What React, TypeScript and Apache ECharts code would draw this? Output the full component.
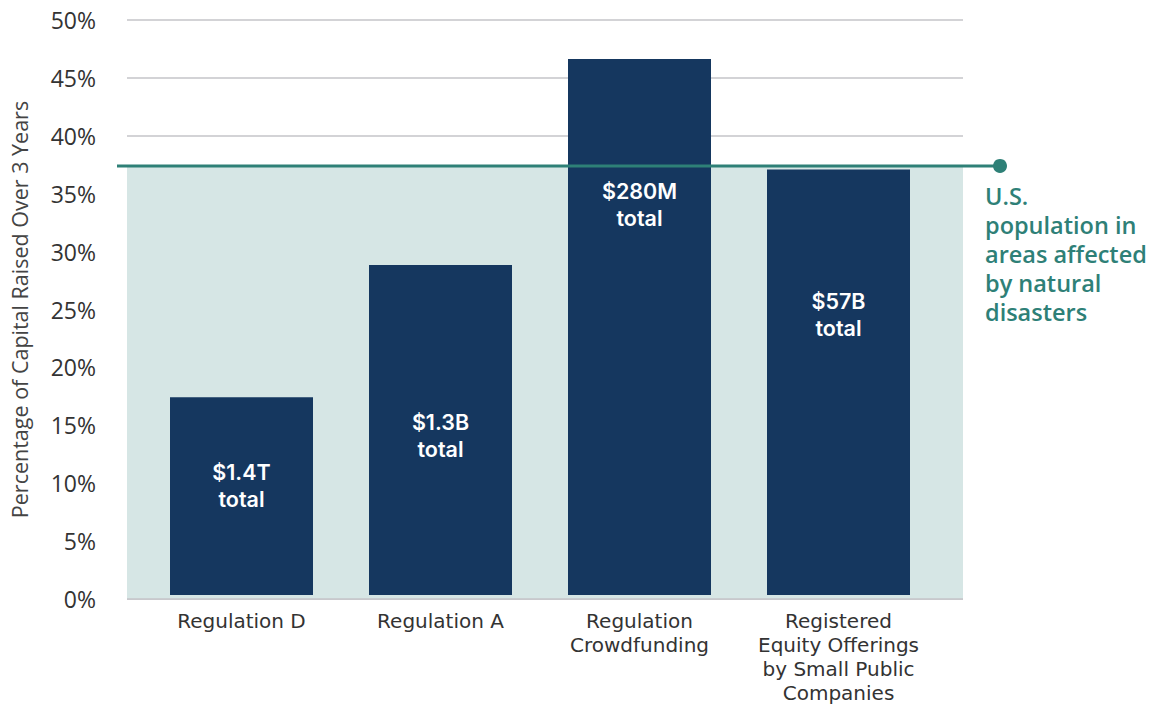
import React, { useEffect, useRef } from "react";
import * as echarts from "echarts";

const categories = [
  "Regulation D",
  "Regulation A",
  "Regulation\nCrowdfunding",
  "Registered\nEquity Offerings\nby Small Public\nCompanies",
];
const shareValues = [17.2, 28.7, 46.6, 37.0];
const totalLabels = ["$1.4T\ntotal", "$1.3B\ntotal", "$280M\ntotal", "$57B\ntotal"];
const labelDistances = [61, 144, 118, 118];
const populationShare = 37.4;
const populationLabel = "U.S.\npopulation in\nareas affected\nby natural\ndisasters";
const yTicks = { min: 0, max: 50, interval: 5 };

const FONT = "'Open Sans', 'Noto Sans', sans-serif";
const CAT_FONT = "'DejaVu Sans', sans-serif";
const BAR_FONT = "Inter, 'Open Sans', sans-serif";
const NAVY = "#15375f";
const TEAL = "#2e8077";
const SHADE = "#d6e6e5";
const GRID_GRAY = "#c4c4c8";

export default function App() {
  const ref = useRef<HTMLDivElement>(null);
  useEffect(() => {
    document.body.style.margin = "0";
    const chart = echarts.init(ref.current!, null, { renderer: "svg" });
    chart.setOption({
      animation: false,
      textStyle: { fontFamily: FONT },
      grid: [
        { left: 117, right: 191, top: 20, bottom: 106 },
        { left: 142, right: 216, top: 20, bottom: 106 },
        { left: 117, right: 154, top: 20, bottom: 106 },
      ],
      xAxis: [
        {
          gridIndex: 0,
          type: "value",
          min: 0,
          max: 1,
          show: true,
          axisLine: { show: false },
          axisTick: { show: false },
          axisLabel: { show: false },
          splitLine: { show: false },
        },
        {
          gridIndex: 1,
          type: "category",
          data: categories,
          axisLine: { show: false },
          axisTick: { show: false },
          axisLabel: {
            color: "#333",
            fontSize: 20,
            lineHeight: 24,
            margin: 14,
            fontFamily: CAT_FONT,
            interval: 0,
          },
        },
        {
          gridIndex: 2,
          type: "value",
          min: 0,
          max: 1,
          show: false,
        },
      ],
      yAxis: [
        {
          gridIndex: 0,
          type: "value",
          min: yTicks.min,
          max: yTicks.max,
          interval: yTicks.interval,
          z: 1,
          name: "Percentage of Capital Raised Over 3 Years",
          nameLocation: "middle",
          nameGap: 97,
          nameTextStyle: { color: "#444", fontSize: 21.5, fontFamily: FONT },
          axisLine: { show: false },
          axisTick: { show: false },
          axisLabel: {
            formatter: "{value}%",
            color: "#333",
            fontSize: 23,
            margin: 31,
            fontFamily: FONT,
          },
          splitLine: { show: true, lineStyle: { color: GRID_GRAY, width: 1.5 } },
        },
        {
          gridIndex: 1,
          type: "value",
          min: yTicks.min,
          max: yTicks.max,
          show: false,
          splitLine: { show: false },
        },
        {
          gridIndex: 2,
          type: "value",
          min: yTicks.min,
          max: yTicks.max,
          show: false,
          splitLine: { show: false },
        },
      ],
      series: [
        {
          type: "line",
          xAxisIndex: 0,
          yAxisIndex: 0,
          z: 0,
          data: [],
          markArea: {
            silent: true,
            itemStyle: { color: SHADE },
            data: [[{ yAxis: 0 }, { yAxis: populationShare }]],
          },
          markLine: {
            silent: true,
            symbol: "none",
            label: { show: false },
            lineStyle: { color: GRID_GRAY, width: 1.5, type: "solid" },
            data: [{ yAxis: 0 }],
          },
        },
        {
          type: "bar",
          xAxisIndex: 1,
          yAxisIndex: 1,
          z: 3,
          barWidth: 143,
          itemStyle: { color: NAVY },
          data: shareValues.map((v, i) => ({
            value: v,
            label: {
              show: true,
              position: "insideTop",
              distance: labelDistances[i],
              formatter: totalLabels[i],
              color: "#fff",
              fontWeight: 600,
              fontSize: 21.5,
              lineHeight: 27,
              fontFamily: BAR_FONT,
            },
          })),
        },
        {
          type: "line",
          xAxisIndex: 2,
          yAxisIndex: 2,
          z: 5,
          data: [
            [0, populationShare],
            [1, populationShare],
          ],
          lineStyle: { color: TEAL, width: 3 },
          symbol: (_v: any, p: any) => (p.dataIndex === 1 ? "circle" : "none"),
          symbolSize: 14,
          showSymbol: true,
          itemStyle: { color: TEAL },
          label: { show: false },
        },
      ],
      graphic: [
        {
          type: "text",
          left: 985,
          top: 181,
          style: {
            text: populationLabel,
            fill: TEAL,
            font: `600 23.5px ${FONT}`,
            lineHeight: 29,
          },
        },
      ],
    });
    return () => chart.dispose();
  }, []);
  return <div ref={ref} style={{ width: 1154, height: 705 }} />;
}
